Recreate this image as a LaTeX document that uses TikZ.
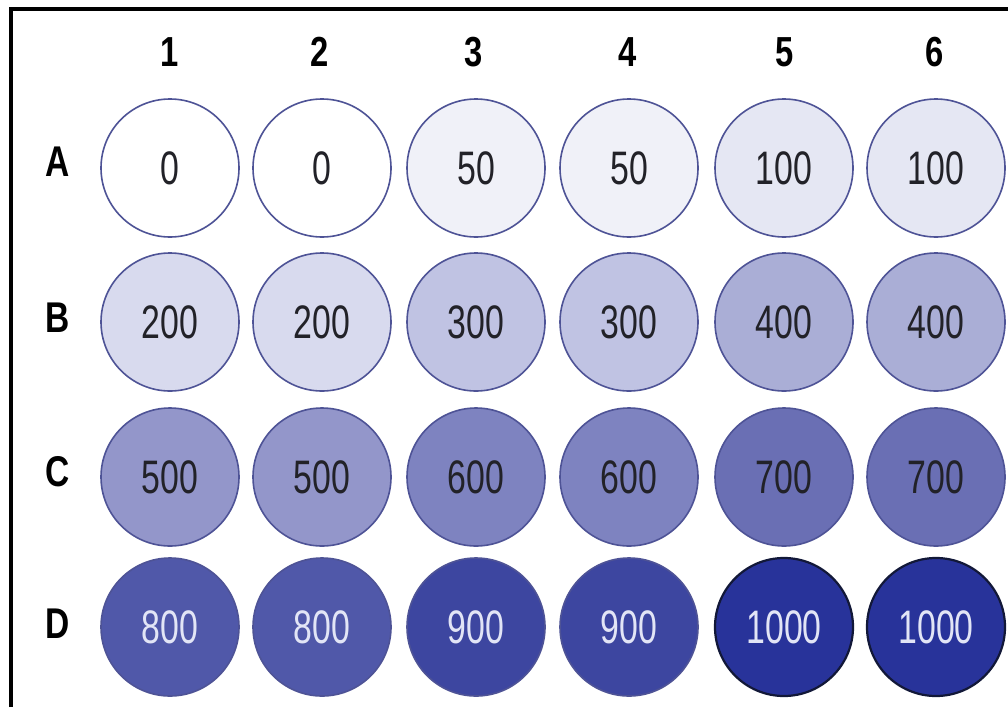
\documentclass[tikz,border=0pt]{standalone}
\usepackage{fontspec}
\setmainfont{Liberation Sans}
\newfontfamily\wellfont[FakeStretch=0.72]{Liberation Sans}
\newfontfamily\labfont[FakeStretch=0.78]{Liberation Sans Bold}
\definecolor{wA}{HTML}{FFFFFF}
\definecolor{wB}{HTML}{F0F1F8}
\definecolor{wC}{HTML}{E5E7F3}
\definecolor{wD}{HTML}{D8DAEE}
\definecolor{wE}{HTML}{C0C3E3}
\definecolor{wF}{HTML}{AAAED6}
\definecolor{wG}{HTML}{9396CA}
\definecolor{wH}{HTML}{7E83C0}
\definecolor{wI}{HTML}{6A6FB4}
\definecolor{wJ}{HTML}{5058A9}
\definecolor{wK}{HTML}{3D46A0}
\definecolor{wL}{HTML}{28339A}
\definecolor{rim}{HTML}{4E5396}
\definecolor{darkrim}{HTML}{121838}
\definecolor{lighttext}{HTML}{E2E5F6}
\definecolor{darktext}{HTML}{222228}
\tikzset{
  well/.style={circle, draw=rim, line width=1.6pt, minimum size=138pt, inner sep=0pt,
    font=\wellfont\fontsize{47}{47}\selectfont, text=darktext},
  darkwell/.style={well, text=lighttext},
  blackwell/.style={darkwell, draw=darkrim, line width=2.2pt},
  collab/.style={font=\labfont\fontsize{42}{42}\selectfont, inner sep=0pt},
  rowlab/.style={font=\labfont\fontsize{43}{43}\selectfont, inner sep=0pt},
}
\begin{document}
\begin{tikzpicture}[x=1pt,y=-1pt]
\useasboundingbox (0,0) rectangle (1008,707);
\fill[white] (0,0) rectangle (1008,707);
\coordinate (fb) at (11,707);
\coordinate (fc) at (11,9);
\coordinate (fr) at (1008,9);
\draw[line width=4pt] (fb) -- (fc) -- (fr);
% column headers
\node[collab] (h1) at (170,52) {1};
\node[collab] (h2) at (320,52) {2};
\node[collab] (h3) at (474,52) {3};
\node[collab] (h4) at (628,52) {4};
\node[collab] (h5) at (785,52) {5};
\node[collab] (h6) at (935,52) {6};
% row labels
\node[rowlab] (rA) at (58,162) {A};
\node[rowlab] (rB) at (58,318) {B};
\node[rowlab] (rC) at (58,472) {C};
\node[rowlab] (rD) at (58,624) {D};
% row A
\node[well, fill=wA] (A1) at (170,168) {0};
\node[well, fill=wA] (A2) at (322,168) {0};
\node[well, fill=wB] (A3) at (476,168) {50};
\node[well, fill=wB] (A4) at (629,168) {50};
\node[well, fill=wC] (A5) at (784,168) {100};
\node[well, fill=wC] (A6) at (936,168) {100};
% row B
\node[well, fill=wD] (B1) at (170,322) {200};
\node[well, fill=wD] (B2) at (322,322) {200};
\node[well, fill=wE] (B3) at (476,322) {300};
\node[well, fill=wE] (B4) at (629,322) {300};
\node[well, fill=wF] (B5) at (784,322) {400};
\node[well, fill=wF] (B6) at (936,322) {400};
% row C
\node[well, fill=wG] (C1) at (170,477) {500};
\node[well, fill=wG] (C2) at (322,477) {500};
\node[well, fill=wH] (C3) at (476,477) {600};
\node[well, fill=wH] (C4) at (629,477) {600};
\node[well, fill=wI] (C5) at (784,477) {700};
\node[well, fill=wI] (C6) at (936,477) {700};
% row D
\node[darkwell, fill=wJ] (D1) at (170,627) {800};
\node[darkwell, fill=wJ] (D2) at (322,627) {800};
\node[darkwell, fill=wK] (D3) at (476,627) {900};
\node[darkwell, fill=wK] (D4) at (629,627) {900};
\node[blackwell, fill=wL] (D5) at (784,627) {1000};
\node[blackwell, fill=wL] (D6) at (936,627) {1000};
\end{tikzpicture}
\end{document}
